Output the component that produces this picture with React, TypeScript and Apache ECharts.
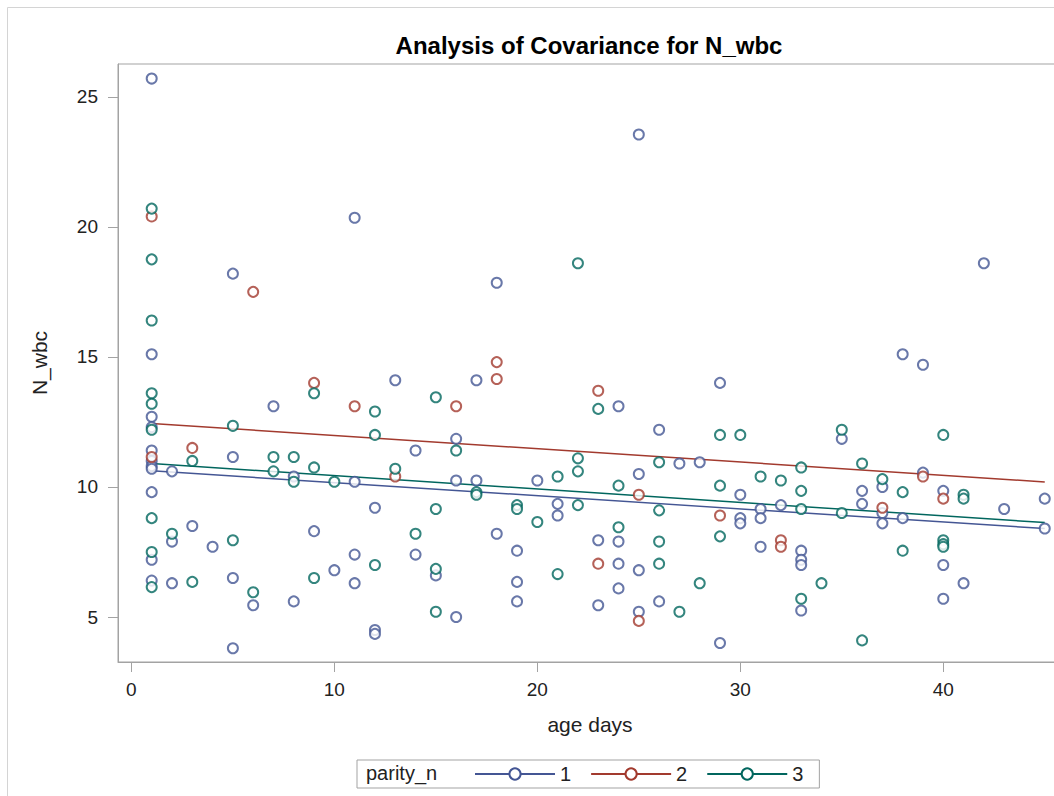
import React, { useEffect, useRef } from "react";
import * as echarts from "echarts";

const chartTitle = "Analysis of Covariance for N_wbc";
const xAxisName = "age days";
const yAxisName = "N_wbc";
const legendTitle = "parity_n";
const groupNames = ["1", "2", "3"];
const groupColors = ["#445694", "#A23A2E", "#01665E"];
const xTickValues = [0, 10, 20, 30, 40];
const yTickValues = [5, 10, 15, 20, 25];

// parity_n = 1 : [age days, N_wbc]
const parity1 = [
  [1, 25.7], [1, 15.1], [1, 12.7], [1, 12.3], [1, 11.4], [1, 11.0], [1, 10.8], [1, 10.7], [1, 9.8], [1, 7.2], [1, 6.4],
  [2, 10.6], [2, 7.9], [2, 6.3],
  [3, 8.5], [4, 7.7],
  [5, 18.2], [5, 11.15], [5, 6.5], [5, 3.8],
  [6, 5.45], [7, 13.1], [8, 10.4], [8, 5.6], [9, 8.3], [10, 6.8],
  [11, 20.35], [11, 10.2], [11, 7.4], [11, 6.3],
  [12, 9.2], [12, 4.5], [12, 4.35],
  [13, 14.1], [14, 11.4], [14, 7.4], [15, 6.6],
  [16, 11.85], [16, 10.25], [16, 5.0],
  [17, 14.1], [17, 10.25], [18, 17.85], [18, 8.2],
  [19, 7.55], [19, 6.35], [19, 5.6], [20, 10.25],
  [21, 9.35], [21, 8.9], [23, 7.95], [23, 5.45],
  [24, 13.1], [24, 7.9], [24, 7.05], [24, 6.1],
  [25, 23.55], [25, 10.5], [25, 6.8], [25, 5.2],
  [26, 12.2], [26, 5.6], [27, 10.9], [28, 10.95],
  [29, 14.0], [29, 4.0], [30, 9.7], [30, 8.8], [30, 8.6],
  [31, 9.15], [31, 8.8], [31, 7.7], [32, 9.3],
  [33, 7.55], [33, 7.2], [33, 7.0], [33, 5.25],
  [35, 11.85], [36, 9.85], [36, 9.35],
  [37, 10.0], [37, 9.0], [37, 8.6], [38, 15.1], [38, 8.8],
  [39, 14.7], [39, 10.55], [40, 9.85], [40, 7.0], [40, 5.7],
  [41, 6.3], [42, 18.6], [43, 9.15], [45, 9.55], [45, 8.4],
];

// parity_n = 2
const parity2 = [
  [1, 20.4], [1, 11.15], [3, 11.5], [6, 17.5], [9, 14.0], [11, 13.1], [13, 10.4], [16, 13.1],
  [18, 14.8], [18, 14.15], [23, 13.7], [23, 7.05], [25, 9.7], [25, 4.85], [29, 8.9],
  [32, 7.95], [32, 7.7], [37, 9.2], [39, 10.4], [40, 9.55],
];

// parity_n = 3
const parity3 = [
  [1, 20.7], [1, 18.75], [1, 16.4], [1, 13.6], [1, 13.2], [1, 12.2], [1, 8.8], [1, 7.5], [1, 6.15],
  [2, 8.2], [3, 11.0], [3, 6.35], [5, 12.35], [5, 7.95], [6, 5.95],
  [7, 11.15], [7, 10.6], [8, 11.15], [8, 10.2], [9, 13.6], [9, 10.75], [9, 6.5], [10, 10.2],
  [12, 12.9], [12, 12.0], [12, 7.0], [13, 10.7], [14, 8.2],
  [15, 13.45], [15, 9.15], [15, 6.85], [15, 5.2], [16, 11.4], [17, 9.8], [17, 9.7],
  [19, 9.3], [19, 9.15], [20, 8.65], [21, 10.4], [21, 6.65],
  [22, 18.6], [22, 11.1], [22, 10.6], [22, 9.3], [23, 13.0], [24, 10.05], [24, 8.45],
  [26, 10.95], [26, 9.1], [26, 7.9], [26, 7.05], [27, 5.2], [28, 6.3],
  [29, 12.0], [29, 10.05], [29, 8.1], [30, 12.0], [31, 10.4], [32, 10.25],
  [33, 10.75], [33, 9.85], [33, 9.15], [33, 5.7], [34, 6.3],
  [35, 12.2], [35, 9.0], [36, 10.9], [36, 4.1], [37, 10.3], [38, 9.8], [38, 7.55],
  [40, 12.0], [40, 7.95], [40, 7.8], [40, 7.7], [41, 9.7], [41, 9.55],
];

// fitted ANCOVA lines (endpoints at the observed day range)
const fit1 = [[1, 10.62], [45, 8.4]];
const fit2 = [[1, 12.44], [45, 10.19]];
const fit3 = [[1, 10.9], [45, 8.63]];

const scatterData = [parity1, parity2, parity3];
const fitData = [fit1, fit2, fit3];

const FONT = "'Liberation Sans', Arial, sans-serif";
const AXIS_GREY = "#a3a3a3";

export default function App() {
  const ref = useRef<HTMLDivElement>(null);

  useEffect(() => {
    if (!ref.current) return;
    const chart = echarts.init(ref.current, null, { renderer: "svg" });

    const lineSeries = groupNames.map((name, i) => ({
      name,
      type: "line",
      data: fitData[i],
      symbol: "emptyCircle",
      symbolSize: 10,
      showSymbol: false,
      color: groupColors[i],
      lineStyle: { color: groupColors[i], width: 1.5 },
      itemStyle: { color: groupColors[i] },
      silent: true,
      z: 2,
    }));

    const scatterSeries = groupNames.map((name, i) => ({
      name,
      type: "scatter",
      data: scatterData[i],
      symbol: "emptyCircle",
      symbolSize: 10,
      itemStyle: { color: groupColors[i], borderColor: groupColors[i], borderWidth: 1.4 },
      silent: true,
      z: 3,
    }));

    chart.setOption({
      animation: false,
      backgroundColor: "#fff",
      textStyle: { fontFamily: FONT },
      title: {
        text: chartTitle,
        left: "center",
        top: 28,
        textStyle: { fontSize: 24, fontWeight: "bold", color: "#000", fontFamily: FONT },
      },
      grid: {
        left: 118,
        top: 64,
        width: 944,
        height: 598,
        show: true,
        borderColor: AXIS_GREY,
        borderWidth: 1,
        backgroundColor: "transparent",
      },
      xAxis: {
        type: "value",
        min: -0.66,
        max: 45.85,
        name: xAxisName,
        nameLocation: "middle",
        nameGap: 52,
        nameTextStyle: { fontSize: 21, color: "#222", fontFamily: FONT },
        axisLine: { show: true, onZero: false, lineStyle: { color: AXIS_GREY, width: 1 } },
        axisTick: { show: true, length: 10, customValues: xTickValues, lineStyle: { color: AXIS_GREY } },
        axisLabel: { customValues: xTickValues, fontSize: 19, margin: 18, color: "#222", fontFamily: FONT },
        splitLine: { show: false },
      },
      yAxis: {
        type: "value",
        min: 3.27,
        max: 26.26,
        name: yAxisName,
        nameLocation: "middle",
        nameGap: 68,
        nameRotate: 90,
        nameTextStyle: { fontSize: 21, color: "#222", fontFamily: FONT },
        axisLine: { show: true, onZero: false, lineStyle: { color: AXIS_GREY, width: 1 } },
        axisTick: { show: true, length: 10, customValues: yTickValues, lineStyle: { color: AXIS_GREY } },
        axisLabel: { customValues: yTickValues, fontSize: 19, margin: 20, color: "#222", fontFamily: FONT },
        splitLine: { show: false },
      },
      legend: {
        data: groupNames,
        left: 357,
        top: 760,
        orient: "horizontal",
        selectedMode: false,
        itemWidth: 80,
        itemHeight: 14,
        itemGap: 19,
        padding: [4, 16, 4, 117],
        borderColor: AXIS_GREY,
        borderWidth: 1,
        textStyle: { fontSize: 20, color: "#222", fontFamily: FONT },
      },
      graphic: [
        {
          type: "rect",
          shape: { x: 7.5, y: 7.5, width: 1400, height: 1000 },
          style: { fill: "none", stroke: "#d4d4d4", lineWidth: 1 },
          silent: true,
          z: -10,
        },
        {
          type: "text",
          left: 366,
          top: 763,
          style: { text: legendTitle, fontSize: 20, fill: "#222", fontFamily: FONT },
          silent: true,
        },
      ],
      series: [...lineSeries, ...scatterSeries],
    });

    return () => chart.dispose();
  }, []);

  return (
    <div
      style={{
        position: "fixed",
        left: 0,
        top: 0,
        width: 1054,
        height: 796,
        overflow: "hidden",
        background: "#fff",
      }}
    >
      <div ref={ref} style={{ width: 1178, height: 796 }} />
    </div>
  );
}
